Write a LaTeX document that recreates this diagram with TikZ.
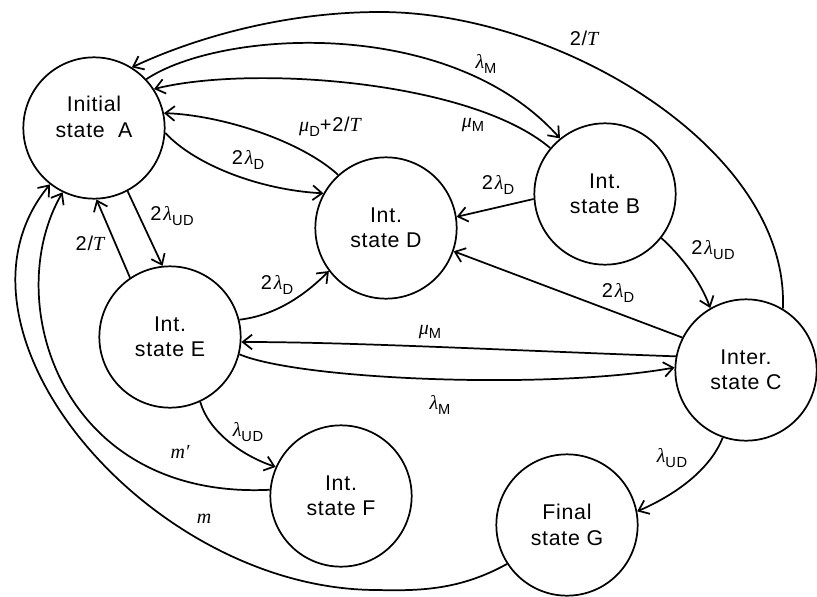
\documentclass[tikz,border=0pt]{standalone}
\usepackage{fontspec}
\setmainfont{Liberation Sans}[LetterSpace=3.5]
\newfontfamily\lserif{Liberation Serif}
\usetikzlibrary{arrows.meta}
\newcommand{\gl}{{\lserif\itshape λ}}
\newcommand{\gm}{{\lserif\itshape μ}}
\newcommand{\sbs}[1]{\raisebox{-0.45ex}{\fontsize{11}{12}\selectfont #1}}
\newcommand{\vT}{{\lserif\itshape T}}
\begin{document}
\begin{tikzpicture}[x=0.75pt,y=-0.75pt,
  state/.style={circle, draw, line width=1.3pt, minimum size=106pt, inner sep=0pt, align=center, font=\fontsize{16}{19}\selectfont},
  statetext/.style={align=center, inner sep=0pt, font=\fontsize{16}{19}\selectfont},
  edge/.style={line width=1.3pt, -{Straight Barb[length=7pt,width=11pt,line width=1.3pt]}},
  lab/.style={font=\fontsize{15}{17}\selectfont, inner sep=1pt}]
\useasboundingbox[fill=white] (0,0) rectangle (817,596);

\node[state] (A) at (94,128) {};
\node[statetext] (At) at (94,117) {Initial\\state\ \ A};
\node[state] (B) at (605,194) {Int.\\state B};
\node[state] (D) at (386,228) {Int.\\state D};
\node[state] (E) at (170,337) {Int.\\state E};
\node[state] (C) at (746,370) {Inter.\\state C};
\node[state] (F) at (341,496) {Int.\\state F};
\node[state] (G) at (567,525) {Final\\state G};

\draw[edge] (C.59) .. controls (790,150) and (560,12) .. (380,12) .. controls (280,12) and (190,40) .. (A.58);
\draw[edge] (A.43) .. controls (220,30) and (450,15) .. (B.129);
\draw[edge] (B.140) .. controls (470,80) and (250,65) .. (A.33);
\draw[edge] (D.132) .. controls (300,140) and (220,115) .. (A.12);
\draw[edge] (A.-4) .. controls (195,165) and (260,190) .. (D.151);
\draw[edge] (A.-62) -- (E.96);
\draw[edge] (E.124) -- (A.-88);
\draw[edge] (E.14) .. controls (280,315) and (310,290) .. (D.-143);
\draw[edge] (C.169) .. controls (500,350) and (350,342) .. (E.-4);
\draw[edge] (E.-14) .. controls (300,380) and (550,390) .. (C.178);
\draw[edge] (B.-176) -- (D.9.5);
\draw[edge] (C.153) -- (D.-19);
\draw[edge] (B.-38) .. controls (680,255) and (700,280) .. (C.120);
\draw[edge] (E.-65) .. controls (208,430) and (240,455) .. (F.156);
\draw[edge] (C.-109) .. controls (710,470) and (675,495) .. (G.11);
\draw[edge] (F.175) .. controls (60,500) and (0,300) .. (A.-116);
\draw[edge] (G.-147) .. controls (460,590) and (420,591) .. (377,590) .. controls (150,590) and (-70,330) .. (A.-128);

\node[lab] (l1) at (584,38) {2/\vT};
\node[lab] (l2) at (486,64) {\gl\sbs{M}};
\node[lab] (l3) at (473,125) {\gm\sbs{M}};
\node[lab] (l4) at (330,127) {\gm\sbs{D}+2/\vT};
\node[lab] (l5) at (248,160) {2\kern1.5pt\gl\sbs{D}};
\node[lab] (l6) at (172,216) {2\kern1.5pt\gl\sbs{UD}};
\node[lab] (l7) at (90,243) {2/\vT};
\node[lab] (l8) at (277,285) {2\kern1.5pt\gl\sbs{D}};
\node[lab] (l9) at (498,185) {2\kern1.5pt\gl\sbs{D}};
\node[lab] (l10) at (618,293) {2\kern1.5pt\gl\sbs{D}};
\node[lab] (l11) at (713,250) {2\kern1.5pt\gl\sbs{UD}};
\node[lab] (l12) at (430,332) {\gm\sbs{M}};
\node[lab] (l13) at (440,405) {\gl\sbs{M}};
\node[lab] (l14) at (248,432) {\gl\sbs{UD}};
\node[lab] (l15) at (672,458) {\gl\sbs{UD}};
\node[lab] (l16) at (180,452) {{\lserif\itshape m′}};
\node[lab] (l17) at (204,519) {{\lserif\itshape m}};
\end{tikzpicture}
\end{document}
